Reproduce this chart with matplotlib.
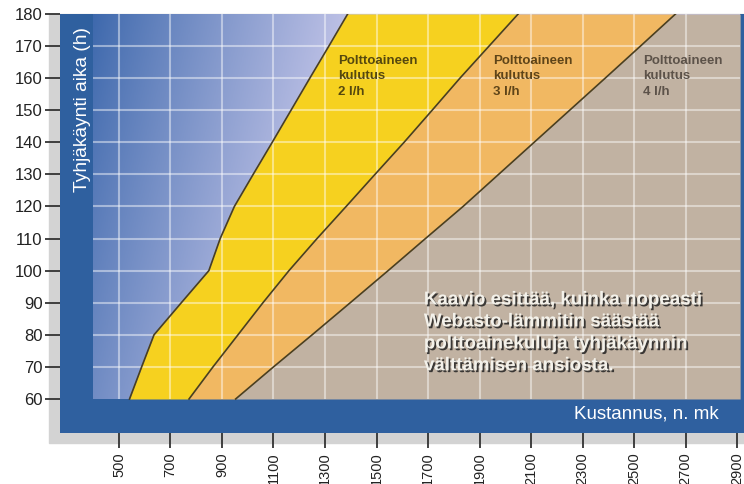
import numpy as np
import matplotlib
matplotlib.use("Agg")
import matplotlib.pyplot as plt
import matplotlib.patheffects as pe
from matplotlib.patches import Rectangle
from matplotlib.colors import to_rgb

plt.rcParams['font.family'] = ['Liberation Sans', 'DejaVu Sans']

# idle time (h) levels and the cost (mk) of each consumption curve at those levels
aika = [60, 70, 80, 90, 100, 110, 120, 130, 140, 150, 160, 170, 180]
kulutus_2 = [541, 588, 636, 742, 849, 893, 948, 1021, 1095, 1168, 1241, 1315, 1388]
kulutus_3 = [772, 865, 962, 1059, 1160, 1269, 1382, 1494, 1607, 1716, 1824, 1937, 2050]
kulutus_4 = [953, 1100, 1250, 1398, 1545, 1690, 1836, 1974, 2112, 2250, 2388, 2525, 2661]

x_ticks = list(range(500, 3000, 200))
y_ticks = list(range(60, 190, 10))

labels_kulutus = ['Polttoaineen\nkulutus\n2 l/h', 'Polttoaineen\nkulutus\n3 l/h', 'Polttoaineen\nkulutus\n4 l/h']
label_x = [1352, 1954, 2536]
info = 'Kaavio esittää, kuinka nopeasti\nWebasto-lämmitin säästää\npolttoainekuluja tyhjäkäynnin\nvälttämisen ansiosta.'

sininen = '#2f609f'
keltainen = '#f6d11f'
oranssi = '#f1b862'
harmaa = '#c1b2a2'
viiva = '#4a3f20'

fig = plt.figure(figsize=(7.44, 4.84), dpi=100)
# gray strip behind the tick marks
fig.patches.append(Rectangle((49 / 744, (484 - 443) / 484), (744 - 49) / 744, (443 - 14) / 484,
                             transform=fig.transFigure, color='#d3d3d3', zorder=-1))
ax = fig.add_axes([60 / 744, (484 - 433) / 484, (744 - 60) / 744, (433 - 14) / 484])
ax.set_zorder(1)
ax.set_facecolor(sininen)
x_left, x_right = 400, 2912
ax.set_xlim(271, 2927)
ax.set_ylim(49.4, 180)

# blue-lavender gradient in the chart area
gx = np.linspace(x_left, x_right, 300)
gy = np.linspace(60, 180, 120)
GX, GY = np.meshgrid(gx, gy)
t = np.clip((GX - 380) / 1050 + (180 - GY) / 120 * 0.35, 0, 1) ** 0.9
c0 = np.array(to_rgb('#3a66ab'))
c1 = np.array(to_rgb('#c2c4e8'))
img = c0 + (c1 - c0) * t[..., None]
ax.imshow(img, extent=(x_left, x_right, 60, 180), origin='lower', aspect='auto', zorder=1)

ax.fill_betweenx(aika, kulutus_2, kulutus_3, color=keltainen, lw=0, zorder=2)
ax.fill_betweenx(aika, kulutus_3, kulutus_4, color=oranssi, lw=0, zorder=2)
ax.fill_betweenx(aika, kulutus_4, x_right, color=harmaa, lw=0, zorder=2)

# white grid
ax.vlines(x_ticks[:-1], 60, 180, colors='white', alpha=0.45, lw=1.5, zorder=3)
ax.hlines(y_ticks[1:-1], x_left, x_right, colors='white', alpha=0.45, lw=1.5, zorder=3)

for xs in (kulutus_2, kulutus_3, kulutus_4):
    ax.plot(xs, aika, color=viiva, lw=1.2, zorder=4)

tekstivari = ['#55480e', '#5e4418', '#5c5249']
for txt, x, c in zip(labels_kulutus, label_x, tekstivari):
    ax.text(x, 167.3, txt, fontsize=9.5, fontweight='bold', color=c,
            ha='left', va='top', zorder=5, linespacing=1.4)

ax.text(1684, 93.5, info, fontsize=13.5, fontweight='bold', color='#f3f1ea',
        ha='left', va='top', zorder=5, linespacing=1.38,
        path_effects=[pe.withSimplePatchShadow(offset=(1.3, -1.3), shadow_rgbFace='#222222', alpha=0.85)])

ax.text(360, 176, 'Tyhjäkäynti aika (h)', rotation=90, fontsize=13.8, color='white',
        ha='center', va='top', zorder=5)
ax.text(2830, 55.2, 'Kustannus, n. mk', fontsize=13.5, color='white',
        ha='right', va='center', zorder=5)

for s in ax.spines.values():
    s.set_visible(False)
ax.set_xticks(x_ticks)
ax.set_yticks(y_ticks)
ax.set_xticklabels([str(v) for v in x_ticks], rotation=90)
ax.tick_params(axis='both', direction='out', length=11, width=1.3, color='#333333', labelcolor='#222222')
ax.tick_params(axis='y', labelsize=12, pad=1.5)
ax.tick_params(axis='x', labelsize=10.5, pad=3)

fig.savefig('out.png', dpi=100)
